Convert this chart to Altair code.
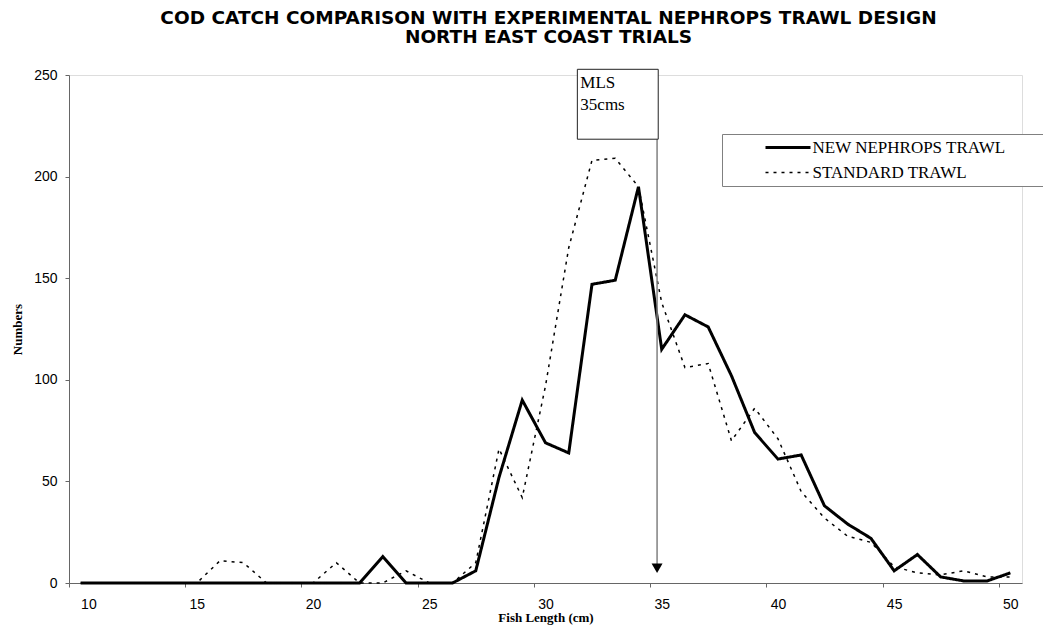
import altair as alt
import pandas as pd

# ---- data ----
lengths = [10, 11, 12, 13, 14, 15, 16, 17, 18, 19, 20, 21, 22, 23, 24, 25, 26, 27, 28, 29,
           30, 31, 32, 33, 34, 35, 36, 37, 38, 39, 40, 41, 42, 43, 44, 45, 46, 47, 48, 49, 50]
new_trawl = [0, 0, 0, 0, 0, 0, 0, 0, 0, 0, 0, 0, 0, 13, 0, 0, 0, 6, 52, 90,
             69, 64, 147, 149, 195, 115, 132, 126, 102, 74, 61, 63, 38, 29, 22, 6, 14, 3, 1, 1, 5]
standard_trawl = [0, 0, 0, 0, 0, 0, 11, 10, 0, 0, 0, 10, 0, 0, 6, 0, 0, 10, 66, 42,
                  97, 165, 208, 209, 195, 138, 106, 108, 70, 86, 71, 45, 32, 23, 20, 8, 5, 4, 6, 3, 3]
series_names = ["NEW NEPHROPS TRAWL", "STANDARD TRAWL"]

x_tick_values = [9.5, 14.5, 19.5, 24.5, 29.5, 34.5, 39.5, 44.5, 49.5]
y_tick_values = [0, 50, 100, 150, 200, 250]

# MLS annotation (in data units)
mls_line_x = [34.8]
mls_box = {"x": [31.37], "x2": [34.85], "y": [252.8], "y2": [218.4]}
mls_text = ["MLS", "35cms"]
mls_text_y = [243.6, 232.8]
mls_arrow_y = [7.3]

rows = []
for i, L in enumerate(lengths):
    rows.append({"length": L, "series": series_names[0], "n": new_trawl[i]})
    rows.append({"length": L, "series": series_names[1], "n": standard_trawl[i]})
df = pd.DataFrame(rows)

x_scale = alt.Scale(domain=[9.5, 50.5], nice=False, zero=False)
y_scale = alt.Scale(domain=[0, 250], nice=False)

axis_common = dict(
    grid=False,
    domainColor="#666666",
    tickColor="#666666",
    tickSize=4,
    labelFont="Liberation Sans",
    labelFontSize=14,
    labelColor="black",
    titleFont="Liberation Serif",
    titleFontWeight="bold",
    titleFontSize=13,
    titleColor="black",
)

BLANK = "\u2800"
legend_props = dict(
    orient="none",
    legendX=653,
    legendY=59,
    title=None,
    padding=5,
    strokeColor="#808080",
    fillColor="white",
    symbolType="M-7.5,0H7.5",
    symbolSize=36,
    symbolStrokeColor="black",
    symbolOffset=52.5,
    labelFont="Liberation Serif",
    labelFontSize=17,
    labelColor="black",
    labelOffset=16,
    rowPadding=7,
    labelLimit=600,
    labelExpr="datum.label + '" + BLANK * 3 + "'",
)

lines = alt.Chart(df).mark_line(color="black").encode(
    x=alt.X(
        "length:Q",
        scale=x_scale,
        title="Fish Length (cm)",
        axis=alt.Axis(
            values=x_tick_values,
            labelExpr="format(datum.value + 0.5, 'd')",
            labelOffset=11.6,
            labelPadding=10,
            titlePadding=0,
            **axis_common,
        ),
    ),
    y=alt.Y(
        "n:Q",
        scale=y_scale,
        title="Numbers",
        axis=alt.Axis(values=y_tick_values, labelPadding=8, titlePadding=9, **axis_common),
    ),
    strokeDash=alt.StrokeDash(
        "series:N",
        scale=alt.Scale(domain=series_names, range=[[1, 0], [3, 5]]),
        legend=alt.Legend(**legend_props),
    ),
    strokeWidth=alt.StrokeWidth(
        "series:N",
        scale=alt.Scale(domain=series_names, range=[3, 1.5]),
        legend=alt.Legend(**legend_props),
    ),
)

box_df = pd.DataFrame(mls_box)
box = alt.Chart(box_df).mark_rect(fill="white", stroke="#222222", strokeWidth=1).encode(
    x="x:Q", x2="x2:Q", y="y:Q", y2="y2:Q"
)

text_df = pd.DataFrame({"x": [mls_box["x"][0]] * 2, "y": mls_text_y, "t": mls_text})
texts = alt.Chart(text_df).mark_text(
    align="left", baseline="alphabetic", dx=3, font="Liberation Serif", fontSize=17, color="black"
).encode(x="x:Q", y="y:Q", text="t:N")

rule_df = pd.DataFrame({"x": mls_line_x, "y": mls_box["y2"], "y2": mls_arrow_y})
rule = alt.Chart(rule_df).mark_rule(color="#808080", strokeWidth=1.5).encode(
    x="x:Q", y="y:Q", y2="y2:Q"
)

arrow_df = pd.DataFrame({"x": mls_line_x, "y": mls_arrow_y})
arrow = alt.Chart(arrow_df).mark_point(
    shape="triangle-down", size=121, filled=True, color="black", opacity=1
).encode(x="x:Q", y="y:Q")

chart = alt.layer(lines, rule, arrow, box, texts).properties(
    width=953,
    height=508,
    title=alt.Title(
        ["COD CATCH COMPARISON WITH EXPERIMENTAL NEPHROPS TRAWL DESIGN", "NORTH EAST COAST TRIALS"],
        font="DejaVu Sans",
        fontSize=18.5,
        fontWeight="bold",
        color="black",
        anchor="middle",
        lineHeight=19,
        offset=22,
        dx=3,
    ),
    autosize=alt.AutoSizeParams(type="none"),
    padding={"left": 61, "top": 67, "right": 21, "bottom": 44},
).configure_view(stroke=None).configure(background="white")

chart.save("out.html", embed_options={"renderer": "svg", "actions": False})
